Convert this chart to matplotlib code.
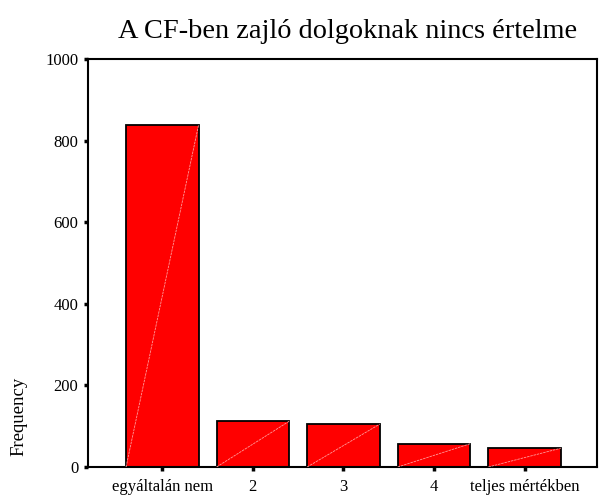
import numpy as np
import matplotlib
matplotlib.use('Agg')
import matplotlib.pyplot as plt

categories = ['egyáltalán nem', '2', '3', '4', 'teljes mértékben']
counts = [838, 112, 105, 57, 46]
yticks = [0, 200, 400, 600, 800, 1000]

plt.rcParams['font.family'] = ['Liberation Serif', 'DejaVu Serif']

fig = plt.figure(figsize=(6.05, 4.97), dpi=100)
ax = fig.add_axes([0.1455, 0.0604, 0.8413, 0.8206])

x = np.arange(len(categories))
w = 0.8
ax.bar(x, counts, width=w, color='#ff0000', edgecolor='black', linewidth=1.3, zorder=2)
# faint diagonal line in each bar
for xi, c in zip(x, counts):
    ax.plot([xi - w/2, xi + w/2], [0, c], color='#ff9a9a', lw=0.6, ls=(0, (3, 1)), zorder=3)

ax.set_xlim(-0.82, 4.8)
ax.set_ylim(0, 1000)
ax.set_xticks(x)
ax.set_xticklabels(categories, fontsize=12)
ax.set_yticks(yticks)
ax.set_yticklabels([str(v) for v in yticks], fontsize=12)
ax.tick_params(axis='both', direction='out', length=3, width=2.5)
ax.tick_params(axis='x', pad=6)
ax.tick_params(axis='y', pad=4)
for s in ax.spines.values():
    s.set_linewidth(1.5)

fig.text(0.575, 0.936, 'A CF-ben zajló dolgoknak nincs értelme', ha='center', va='center', fontsize=20.4)
fig.text(0.032, 0.163, 'Frequency', rotation=90, ha='center', va='center', fontsize=13.5)

fig.savefig('out.png', dpi=100)
